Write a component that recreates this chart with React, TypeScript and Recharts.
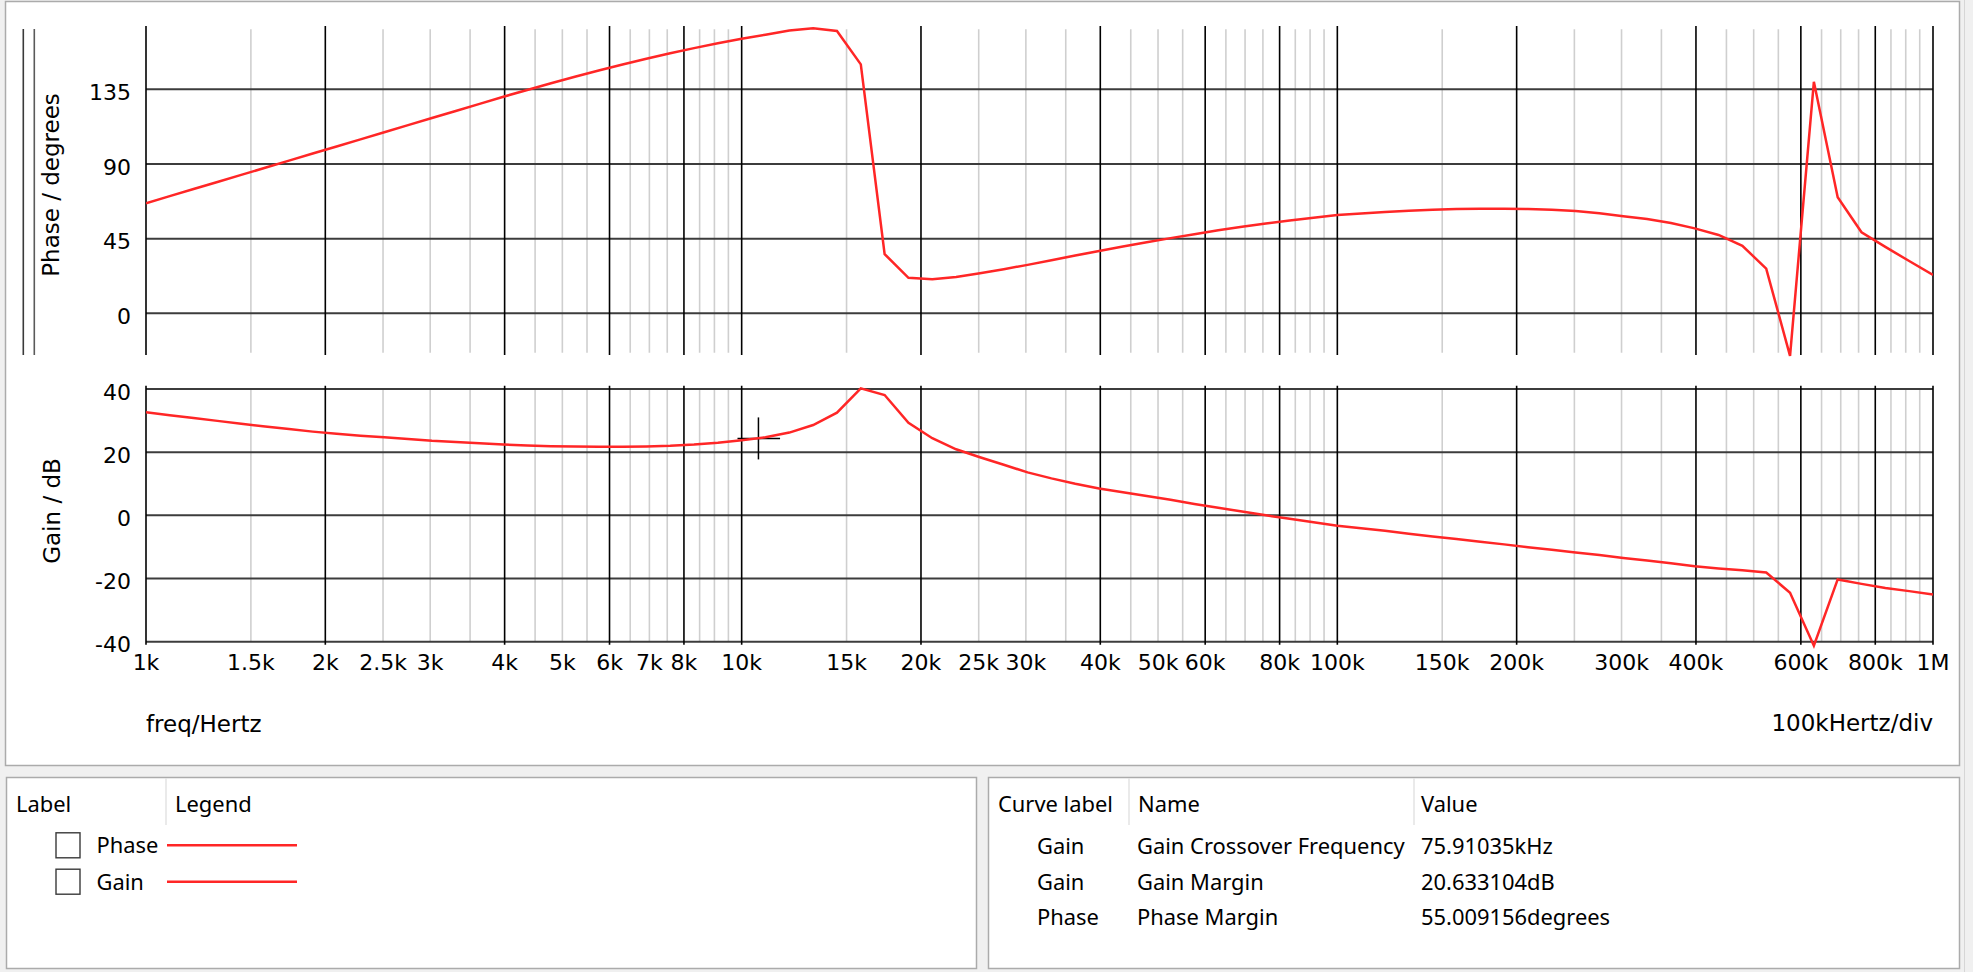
import { LineChart, Line, XAxis, YAxis, ReferenceLine } from "recharts";

// sweep points, 25 per decade
const FREQS = [
  1000, 1096, 1202, 1318, 1445, 1585, 1738, 1905, 2089, 2291,
  2512, 2754, 3020, 3311, 3631, 3981, 4365, 4786, 5248, 5754,
  6310, 6918, 7586, 8318, 9120,
  10000, 10965, 12023, 13183, 14454, 15849, 17378, 19055, 20893, 22909,
  25119, 27542, 30200, 33113, 36308, 39811, 43652, 47863, 52481, 57544,
  63096, 69183, 75858, 83176, 91201,
  100000, 109648, 120226, 131826, 144544, 158489, 173780, 190546, 208930, 229087,
  251189, 275423, 301995, 331131, 363078, 398107, 436516, 478630, 524807, 575440,
  630957, 691831, 758578, 831764, 912011, 1000000,
];

const PHASE = [
  66.3, 70.6, 74.9, 79.1, 83.4, 87.7, 92.0, 96.3, 100.5, 104.8,
  109.1, 113.4, 117.7, 121.9, 126.2, 130.5, 134.6, 138.6, 142.5, 146.3,
  149.9, 153.4, 156.7, 159.8, 162.7,
  165.4, 167.9, 170.4, 171.7, 170.1, 150.0, 35.7, 21.4, 20.5, 21.9,
  24.1, 26.6, 29.2, 32.0, 34.8, 37.5, 40.2, 42.8, 45.3, 47.7,
  50.0, 52.1, 54.1, 55.9, 57.6,
  59.2, 60.2, 61.0, 61.8, 62.4, 62.8, 63.0, 63.0, 62.8, 62.4,
  61.6, 60.3, 58.5, 56.8, 54.4, 51.2, 47.2, 40.7, 26.9, -25.6,
  139.5, 69.9, 48.8, 40.0, 31.5, 23.1,
];

const GAIN = [
  32.6, 31.7, 30.8, 29.9, 29.0, 28.1, 27.3, 26.5, 25.8, 25.2,
  24.7, 24.2, 23.6, 23.2, 22.8, 22.4, 22.1, 21.9, 21.8, 21.7,
  21.7, 21.8, 22.0, 22.4, 23.0,
  23.8, 24.7, 26.2, 28.6, 32.5, 40.2, 38.1, 29.3, 24.4, 20.9,
  18.4, 16.0, 13.6, 11.7, 10.0, 8.5, 7.3, 6.1, 4.9, 3.6,
  2.4, 1.2, 0.0, -1.1, -2.2,
  -3.3, -4.1, -4.9, -5.8, -6.7, -7.5, -8.4, -9.2, -10.1, -10.9,
  -11.8, -12.6, -13.5, -14.3, -15.2, -16.1, -16.8, -17.4, -18.1, -24.5,
  -41.3, -20.3, -21.7, -23.0, -24.0, -25.1,
];

const TICK_FREQS = [
  1000, 1500, 2000, 2500, 3000, 4000, 5000, 6000, 7000, 8000,
  10000, 15000, 20000, 25000, 30000, 40000, 50000, 60000, 80000,
  100000, 150000, 200000, 300000, 400000, 600000, 800000, 1000000,
];
const TICK_LABELS = [
  "1k", "1.5k", "2k", "2.5k", "3k", "4k", "5k", "6k", "7k", "8k",
  "10k", "15k", "20k", "25k", "30k", "40k", "50k", "60k", "80k",
  "100k", "150k", "200k", "300k", "400k", "600k", "800k", "1M",
];

const MAJOR_GRID = [
  1000, 2000, 4000, 6000, 8000, 10000, 20000, 40000, 60000, 80000,
  100000, 200000, 400000, 600000, 800000, 1000000,
];
const MINOR_GRID = [
  1500, 2500, 3000, 3500, 4500, 5000, 5500, 6500, 7000, 7500, 8500, 9000, 9500,
  15000, 25000, 30000, 35000, 45000, 50000, 55000, 65000, 70000, 75000, 85000, 90000, 95000,
  150000, 250000, 300000, 350000, 450000, 500000, 550000, 650000, 700000, 750000, 850000, 900000, 950000,
];

const PHASE_TICKS = [0, 45, 90, 135];
const GAIN_TICKS = [-40, -20, 0, 20, 40];

const LEGEND_ITEMS = ["Phase", "Gain"];
const MEASURE_CURVES = ["Gain", "Gain", "Phase"];
const MEASURE_NAMES = ["Gain Crossover Frequency", "Gain Margin", "Phase Margin"];
const MEASURE_VALUES = ["75.91035kHz", "20.633104dB", "55.009156degrees"];

// crosshair marker left on the gain plot
const CURSOR = { f: 10670, gain: 24.3, fLo: 9840, fHi: 11600, gLo: 17.7, gHi: 31.0 };

const data = FREQS.map((f, i) => ({ f, phase: PHASE[i], gain: GAIN[i] }));

const CHART_FONT = '"DejaVu Sans", Tahoma, sans-serif';
const UI_FONT = '"Noto Sans", "Open Sans", sans-serif';
const RED = "#ff2626";
const W = 1973;
const H = 972;

const tickStyle = { fill: "#000", fontSize: 22, fontFamily: CHART_FONT };

function grid(minorLo: number, minorHi: number, majorLo: number, majorHi: number, hTicks: number[]) {
  return [
    ...MINOR_GRID.map((f) => (
      <ReferenceLine
        key={"mn" + f}
        segment={[{ x: f, y: minorLo }, { x: f, y: minorHi }]}
        stroke="#cfcfcf"
        strokeWidth={1.6}
        ifOverflow="visible"
      />
    )),
    ...hTicks.map((t) => (
      <ReferenceLine key={"h" + t} y={t} stroke="#3c3c3c" strokeWidth={2} ifOverflow="visible" />
    )),
    ...MAJOR_GRID.map((f) => (
      <ReferenceLine
        key={"mj" + f}
        segment={[{ x: f, y: majorLo }, { x: f, y: majorHi }]}
        stroke="#000"
        strokeWidth={1.6}
        ifOverflow="visible"
      />
    )),
  ];
}

function PhaseChart() {
  return (
    <LineChart width={W} height={H} data={data} margin={{ top: 28.2, right: 40, bottom: 616.2, left: 86 }}>
      <XAxis dataKey="f" type="number" scale="log" domain={[1000, 1000000]} hide allowDataOverflow />
      <YAxis
        type="number"
        domain={[-25.6, 171.8]}
        ticks={PHASE_TICKS}
        width={60}
        axisLine={false}
        tickLine={false}
        tickMargin={9}
        tick={{ ...tickStyle, dy: 3 }}
      />
      {grid(-23.7, 171.2, -25.1, 173.2, PHASE_TICKS)}
      <Line type="linear" dataKey="phase" stroke={RED} strokeWidth={2.5} dot={false} isAnimationActive={false} />
    </LineChart>
  );
}

function GainChart() {
  return (
    <LineChart width={W} height={H} data={data} margin={{ top: 387.4, right: 40, bottom: 285.6, left: 86 }}>
      <XAxis
        dataKey="f"
        type="number"
        scale="log"
        domain={[1000, 1000000]}
        ticks={TICK_FREQS}
        interval={0}
        height={40}
        axisLine={false}
        tickLine={false}
        tickSize={6}
        tickMargin={1.5}
        tickFormatter={(v: number) => TICK_LABELS[TICK_FREQS.indexOf(v)]}
        tick={tickStyle}
        allowDataOverflow
      />
      <YAxis
        type="number"
        domain={[-41.5, 40.5]}
        ticks={GAIN_TICKS}
        width={60}
        axisLine={false}
        tickLine={false}
        tickMargin={9}
        tick={{ ...tickStyle, dy: 3 }}
      />
      {grid(-40, 40, -41, 41, GAIN_TICKS)}
      <ReferenceLine
        segment={[{ x: CURSOR.f, y: CURSOR.gLo }, { x: CURSOR.f, y: CURSOR.gHi }]}
        stroke="#000"
        strokeWidth={1.5}
      />
      <ReferenceLine
        segment={[{ x: CURSOR.fLo, y: CURSOR.gain }, { x: CURSOR.fHi, y: CURSOR.gain }]}
        stroke="#000"
        strokeWidth={1.5}
      />
      <Line type="linear" dataKey="gain" stroke={RED} strokeWidth={2.5} dot={false} isAnimationActive={false} />
    </LineChart>
  );
}

function Frame() {
  const txt = { fontFamily: UI_FONT, fontSize: 21.9, fill: "#000" };
  const rowY = [854, 889.5, 925];
  return (
    <svg width={W} height={H} style={{ position: "absolute", left: 0, top: 0 }}>
      <rect x={0} y={0} width={W} height={H} fill="#f0f0f0" />
      <rect x={5.5} y={1.5} width={1954} height={764} fill="#fff" stroke="#ababab" strokeWidth={1.5} />
      <line x1={1964.5} y1={0} x2={1964.5} y2={H} stroke="#d6d6d6" strokeWidth={1} />

      {/* axis captions */}
      <line x1={23.3} y1={29} x2={23.3} y2={355} stroke="#3a3a3a" strokeWidth={1.6} />
      <line x1={34.3} y1={29} x2={34.3} y2={355} stroke="#5a5a5a" strokeWidth={1.6} />
      <text
        transform="translate(59,185) rotate(-90)"
        textAnchor="middle"
        style={{ fontFamily: CHART_FONT, fontSize: 23 }}
      >
        Phase / degrees
      </text>
      <text
        transform="translate(60,511) rotate(-90)"
        textAnchor="middle"
        style={{ fontFamily: CHART_FONT, fontSize: 23 }}
      >
        Gain / dB
      </text>
      <text x={146} y={731.5} style={{ fontFamily: CHART_FONT, fontSize: 23 }}>
        freq/Hertz
      </text>
      <text x={1933} y={731} textAnchor="end" style={{ fontFamily: CHART_FONT, fontSize: 23 }}>
        100kHertz/div
      </text>

      {/* legend panel */}
      <rect x={6.5} y={777.5} width={970} height={191} fill="#fff" stroke="#ababab" strokeWidth={1.5} />
      <line x1={166} y1={778} x2={166} y2={825} stroke="#e3e3e3" strokeWidth={1.5} />
      <text x={16} y={812} style={txt}>Label</text>
      <text x={175} y={812} style={txt}>Legend</text>
      {LEGEND_ITEMS.map((name, i) => {
        const y = [845.3, 881.7][i];
        return (
          <g key={name}>
            <rect x={56} y={y - 12.5} width={24} height={25} fill="#fff" stroke="#3a3a3a" strokeWidth={1.4} />
            <text x={96.5} y={y + 8} style={txt}>{name}</text>
            <line x1={167} y1={y} x2={297} y2={y} stroke={RED} strokeWidth={2.4} />
          </g>
        );
      })}

      {/* measurement panel */}
      <rect x={988.5} y={777.5} width={971} height={191} fill="#fff" stroke="#ababab" strokeWidth={1.5} />
      <line x1={1129} y1={778} x2={1129} y2={825} stroke="#e3e3e3" strokeWidth={1.5} />
      <line x1={1414} y1={778} x2={1414} y2={825} stroke="#e3e3e3" strokeWidth={1.5} />
      <text x={998} y={812} style={txt}>Curve label</text>
      <text x={1138} y={812} style={txt}>Name</text>
      <text x={1421} y={812} style={txt}>Value</text>
      {MEASURE_NAMES.map((name, i) => (
        <g key={name}>
          <text x={1037} y={rowY[i]} style={txt}>{MEASURE_CURVES[i]}</text>
          <text x={1137} y={rowY[i]} style={txt}>{name}</text>
          <text x={1421} y={rowY[i]} style={txt}>{MEASURE_VALUES[i]}</text>
        </g>
      ))}
    </svg>
  );
}

export default function App() {
  return (
    <div style={{ position: "absolute", left: 0, top: 0, width: W, height: H, overflow: "hidden" }}>
      <Frame />
      <div style={{ position: "absolute", left: 0, top: 0 }}>
        <PhaseChart />
      </div>
      <div style={{ position: "absolute", left: 0, top: 0 }}>
        <GainChart />
      </div>
    </div>
  );
}
